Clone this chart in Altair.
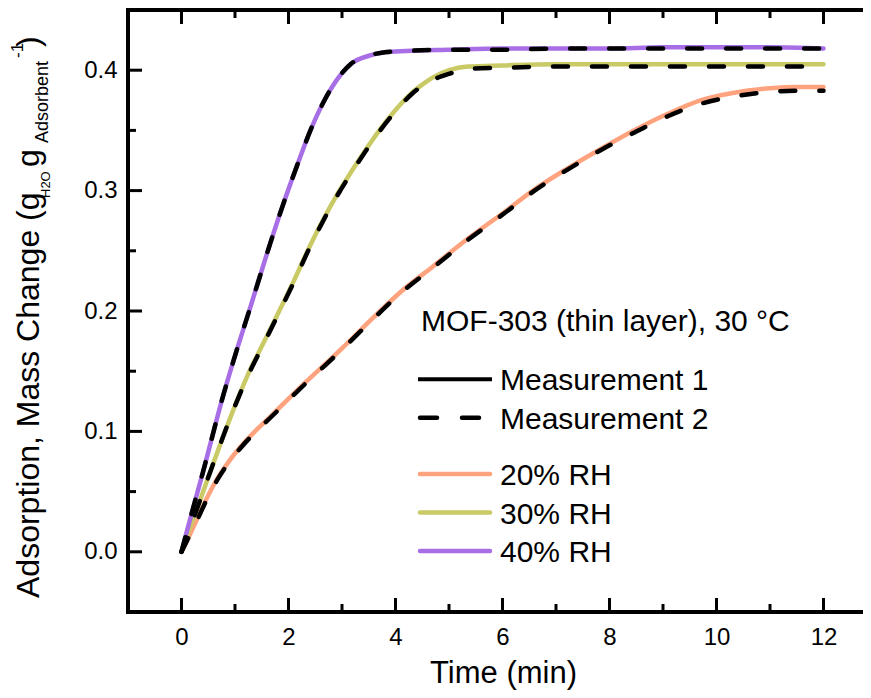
import altair as alt
import pandas as pd

FONT = "Liberation Sans"

# ---------------- data ----------------
rh_labels = ["20% RH", "30% RH", "40% RH"]
rh_colors = ["#FFA27E", "#C9C965", "#A86EE6"]

t_20 = [0, 0.1, 0.3, 0.5, 0.7, 0.9, 1.1, 1.35, 1.7, 2.3, 3.0, 3.55, 4.1, 4.7, 5.35,
        6.0, 6.6, 7.2, 7.85, 8.5, 9.1, 9.7, 10.3, 11.0, 11.5, 12.0]
v_20_m1 = [0, 0.009, 0.028, 0.047, 0.063, 0.076, 0.087, 0.099, 0.114, 0.140, 0.169,
           0.193, 0.216, 0.237, 0.260, 0.281, 0.301, 0.318, 0.335, 0.351, 0.364,
           0.375, 0.381, 0.385, 0.386, 0.386]
v_20_m2 = [0, 0.009, 0.027, 0.046, 0.062, 0.075, 0.086, 0.098, 0.113, 0.139, 0.168,
           0.192, 0.215, 0.236, 0.259, 0.280, 0.300, 0.317, 0.334, 0.349, 0.362,
           0.372, 0.378, 0.382, 0.383, 0.383]

t_30 = [0, 0.1, 0.3, 0.55, 0.9, 1.25, 1.55, 1.75, 2.1, 2.4, 2.65, 2.9, 3.15, 3.4,
        3.8, 4.1, 4.3, 4.5, 4.7, 5.0, 5.35, 6.0, 7.0, 8.0, 9.0, 10.0, 11.0, 12.0]
v_30_m1 = [0, 0.013, 0.037, 0.068, 0.110, 0.148, 0.175, 0.193, 0.225, 0.254, 0.276,
           0.296, 0.314, 0.331, 0.356, 0.372, 0.381, 0.388, 0.394, 0.400, 0.403,
           0.404, 0.405, 0.405, 0.405, 0.405, 0.405, 0.405]
v_30_m2 = [0, 0.013, 0.037, 0.068, 0.110, 0.147, 0.174, 0.192, 0.224, 0.253, 0.275,
           0.295, 0.313, 0.330, 0.355, 0.371, 0.380, 0.387, 0.392, 0.397, 0.401,
           0.402, 0.403, 0.403, 0.403, 0.403, 0.403, 0.403]

t_40 = [0, 0.1, 0.4, 0.8, 1.05, 1.3, 1.6, 1.85, 2.17, 2.41, 2.66, 2.92, 3.16, 3.5,
        3.8, 4.2, 5.0, 6.0, 7.0, 8.0, 9.0, 10.0, 11.0, 12.0]
v_40_m1 = [0, 0.017, 0.066, 0.133, 0.170, 0.205, 0.248, 0.282, 0.322, 0.350, 0.374,
           0.393, 0.405, 0.412, 0.415, 0.416, 0.417, 0.418, 0.418, 0.418, 0.419,
           0.419, 0.419, 0.418]
v_40_m2 = [0, 0.017, 0.066, 0.133, 0.170, 0.205, 0.248, 0.282, 0.322, 0.350, 0.374,
           0.393, 0.405, 0.412, 0.415, 0.416, 0.417, 0.417, 0.418, 0.418, 0.418,
           0.418, 0.418, 0.418]

x_major = [0, 2, 4, 6, 8, 10, 12]
x_minor = [1, 3, 5, 7, 9, 11]
y_major = [0.0, 0.1, 0.2, 0.3, 0.4]
y_minor = [0.05, 0.15, 0.25, 0.35]

legend_title = "MOF-303 (thin layer), 30 °C"
meas_labels = ["Measurement 1", "Measurement 2"]

# ---------------- build table ----------------
rows = []
for lab, t, m1, m2 in [("20% RH", t_20, v_20_m1, v_20_m2),
                       ("30% RH", t_30, v_30_m1, v_30_m2),
                       ("40% RH", t_40, v_40_m1, v_40_m2)]:
    for ti, vi in zip(t, m1):
        rows.append({"t": ti, "v": vi, "rh": lab, "meas": "1"})
    for ti, vi in zip(t, m2):
        rows.append({"t": ti, "v": vi, "rh": lab, "meas": "2"})
df = pd.DataFrame(rows)

# full plot box is 749 px wide (x = -1 .. 13); the page cuts it at 735 px
WF, W, H = 749, 735, 602
xs = alt.Scale(domain=[-1, 13], range=[0, WF], nice=False, zero=False)
ys = alt.Scale(domain=[-0.05, 0.45], nice=False, zero=False)
cs = alt.Scale(domain=rh_labels, range=rh_colors)

xaxis = alt.Axis(values=x_major, format="d", title=None, ticks=False, tickSize=0,
                 domain=False, grid=False, labelFontSize=24, labelPadding=13,
                 labelFont=FONT, labelColor="black")
yaxis = alt.Axis(values=y_major, format=".1f", title=None, ticks=False, tickSize=0,
                 domain=False, grid=False, labelFontSize=24, labelPadding=11,
                 labelFont=FONT, labelColor="black")

colored = alt.Chart(df).transform_filter(alt.datum.meas == "1").mark_line(
    strokeWidth=4.5, interpolate="monotone", strokeCap="round"
).encode(
    x=alt.X("t:Q", scale=xs, axis=xaxis),
    y=alt.Y("v:Q", scale=ys, axis=yaxis),
    color=alt.Color("rh:N", scale=cs, legend=None),
    detail="rh:N",
)

dashed = alt.Chart(df).transform_filter(alt.datum.meas == "2").mark_line(
    strokeWidth=4.5, interpolate="monotone", color="black",
    strokeDash=[15, 24], strokeCap="round"
).encode(
    x=alt.X("t:Q", scale=xs, axis=xaxis),
    y=alt.Y("v:Q", scale=ys, axis=yaxis),
    detail="rh:N",
)

# ---------------- frame (left, bottom, top; right edge lies off the page) ----------------
one = pd.DataFrame({"k": [0]})
frame = [
    alt.Chart(one).mark_rule(color="black", strokeWidth=4, strokeCap="square").encode(
        x=alt.value(0), y=alt.value(0), y2=alt.value(H)),
    alt.Chart(one).mark_rule(color="black", strokeWidth=4, strokeCap="square").encode(
        x=alt.value(0), x2=alt.value(WF), y=alt.value(H)),
    alt.Chart(one).mark_rule(color="black", strokeWidth=4, strokeCap="square").encode(
        x=alt.value(0), x2=alt.value(WF), y=alt.value(0)),
]

# ---------------- inward ticks ----------------
MAJ, MIN = 14, 8
tick_layers = []
for vals, L in [(x_major, MAJ), (x_minor, MIN)]:
    d = pd.DataFrame({"val": vals})
    tick_layers.append(alt.Chart(d).mark_rule(color="black", strokeWidth=3).encode(
        x=alt.X("val:Q", scale=xs, axis=xaxis), y=alt.value(H), y2=alt.value(H - L)))
    tick_layers.append(alt.Chart(d).mark_rule(color="black", strokeWidth=3).encode(
        x=alt.X("val:Q", scale=xs, axis=xaxis), y=alt.value(0), y2=alt.value(L)))
for vals, L in [(y_major, MAJ), (y_minor, MIN)]:
    d = pd.DataFrame({"val": vals})
    tick_layers.append(alt.Chart(d).mark_rule(color="black", strokeWidth=3).encode(
        y=alt.Y("val:Q", scale=ys, axis=yaxis), x=alt.value(0), x2=alt.value(L)))

# ---------------- axis titles ----------------
def txt(s, x, y, size, align="left", angle=0):
    return alt.Chart(pd.DataFrame({"s": [s]})).mark_text(
        font=FONT, fontSize=size, color="black", align=align,
        baseline="alphabetic", angle=angle
    ).encode(text="s:N", x=alt.value(x), y=alt.value(y))

xtitle = txt("Time (min)", WF / 2 + 1, 673, 31, align="center")

ytitle_parts = [
    # text, baseline-x, start-y, size
    ("Adsorption, Mass Change (g", -89, 588, 32),
    ("H2O", -78, 188, 13),
    ("g", -89, 157, 32),
    ("Adsorbent", -80, 133, 18),
    ("-1", -105, 48, 17),
    (")", -89, 37, 32),
]
ytitle = [txt(s, x, y, sz, angle=270) for s, x, y, sz in ytitle_parts]

# ---------------- legend ----------------
LX0, LX1, TX = 290, 364, 372
step, gap, y0 = 38.5, 17.8, 369.3
leg_all = meas_labels + rh_labels
leg_y = [y0 + step * i + (gap if i >= 2 else 0) for i in range(len(leg_all))]
leg_df = pd.DataFrame({"lab": leg_all, "ly": leg_y, "ty": [v + 11 for v in leg_y]})

leg_title = txt(legend_title, 293, 321, 30)
leg_solid = alt.Chart(leg_df.iloc[[0]]).mark_rule(color="black", strokeWidth=4).encode(
    x=alt.value(LX0), x2=alt.value(LX1), y=alt.Y("ly:Q", scale=None))
leg_dash = alt.Chart(leg_df.iloc[[1]]).mark_rule(
    color="black", strokeWidth=4.5, strokeDash=[17, 25], strokeCap="round").encode(
    x=alt.value(LX0 + 2), x2=alt.value(LX1), y=alt.Y("ly:Q", scale=None))
leg_col = alt.Chart(leg_df.iloc[2:]).mark_rule(strokeWidth=4.5, strokeCap="round").encode(
    x=alt.value(LX0 + 2), x2=alt.value(LX1 - 2), y=alt.Y("ly:Q", scale=None),
    color=alt.Color("lab:N", scale=cs, legend=None))
leg_text = alt.Chart(leg_df).mark_text(
    font=FONT, fontSize=30, color="black", align="left", baseline="alphabetic"
).encode(x=alt.value(TX), y=alt.Y("ty:Q", scale=None), text="lab:N")

chart = alt.layer(
    colored, dashed, *frame, *tick_layers, xtitle, *ytitle,
    leg_title, leg_solid, leg_dash, leg_col, leg_text
).properties(
    width=W, height=H,
    padding={"left": 120, "top": 2, "right": 0, "bottom": 78},
    autosize=alt.AutoSizeParams(type="none"),
).configure(
    background="white",
    view=alt.ViewConfig(stroke=None),
)

chart.save("out.html", embed_options={"renderer": "svg", "actions": False})
